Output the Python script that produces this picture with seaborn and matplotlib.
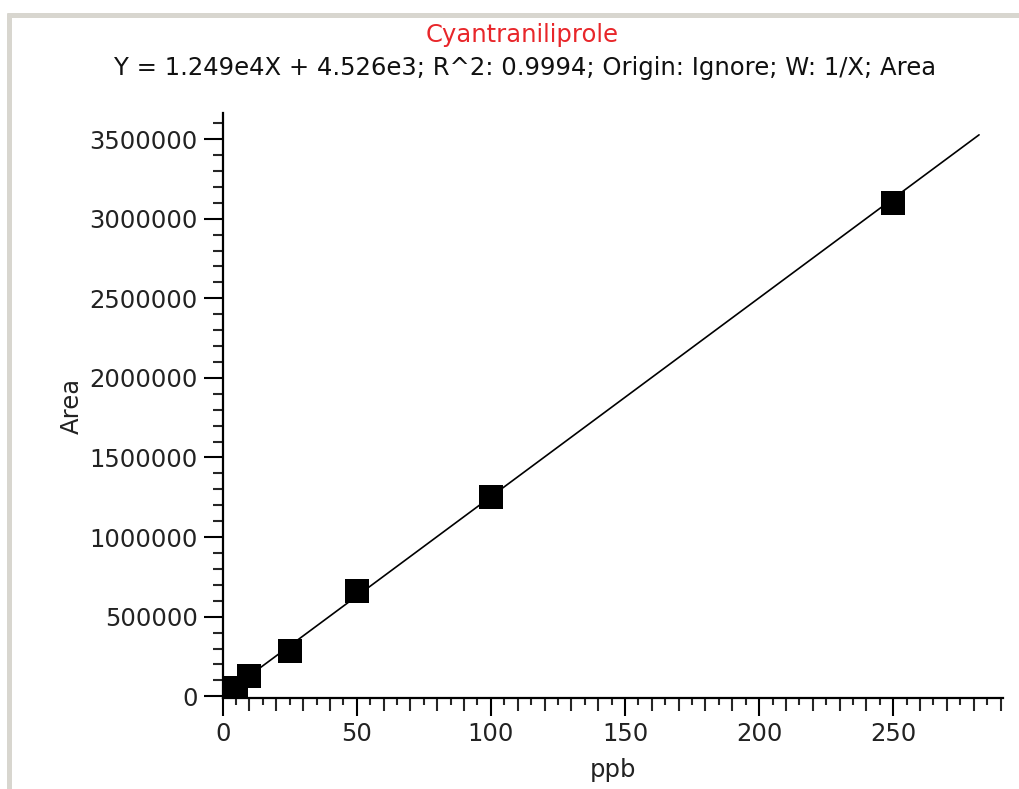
import numpy as np
import pandas as pd
import matplotlib
matplotlib.use("Agg")
import matplotlib.pyplot as plt
from matplotlib.lines import Line2D
from matplotlib.ticker import MultipleLocator, FixedLocator, NullFormatter
import seaborn as sns

# Data
conc_ppb = [5, 10, 25, 50, 100, 250]
area = [52000, 125000, 287000, 660000, 1250000, 3100000]
slope = 1.249e4
intercept = 4.526e3
fit_x = [5, 282]
title_main = "Cyantraniliprole"
title_sub = "Y = 1.249e4X + 4.526e3; R^2: 0.9994; Origin: Ignore; W: 1/X; Area"

sns.set_theme(style="ticks")
plt.rcParams['font.family'] = ['DejaVu Sans']

FS = 17.5

fig = plt.figure(figsize=(10.2, 7.89), dpi=100)
ax = fig.add_axes([0.2183, 0.1153, 0.983 - 0.2183, 0.8568 - 0.1153])

df = pd.DataFrame({"ppb": conc_ppb, "Area": area})
fx = np.array(fit_x, dtype=float)
fit_df = pd.DataFrame({"ppb": fx, "Area": slope * fx + intercept})

sns.lineplot(data=fit_df, x="ppb", y="Area", ax=ax, color="black", linewidth=1.2)
sns.scatterplot(data=df, x="ppb", y="Area", ax=ax, marker="s", s=290,
                color="black", edgecolor="black", linewidth=0, zorder=5)

ax.set_xlim(0, 290.8)
ax.set_ylim(-11000, 3664000)

for s in ["top", "right"]:
    ax.spines[s].set_visible(False)
for s in ["left", "bottom"]:
    ax.spines[s].set_linewidth(1.6)
    ax.spines[s].set_color("black")

ax.xaxis.set_major_locator(MultipleLocator(50))
minor_x = [v for v in range(10, 291, 10) if v % 50 != 0]
ax.xaxis.set_minor_locator(FixedLocator(minor_x))
ax.yaxis.set_major_locator(MultipleLocator(500000))
ax.yaxis.set_minor_locator(MultipleLocator(100000))
ax.yaxis.set_major_formatter(matplotlib.ticker.FuncFormatter(lambda v, p: f"{int(round(v))}"))

ax.tick_params(axis="x", which="major", length=13, width=1.5, labelsize=FS, pad=4, colors="black")
ax.tick_params(axis="x", which="minor", length=9, width=1.5)
ax.tick_params(axis="y", which="major", length=14, width=1.5, labelsize=FS, pad=4, colors="black")
ax.tick_params(axis="y", which="minor", length=7, width=1.5)
for lab in ax.get_xticklabels() + ax.get_yticklabels():
    lab.set_color("#222222")

# short ticks at odd multiples of 5
sec = ax.secondary_xaxis("bottom")
sec.xaxis.set_major_locator(FixedLocator([v for v in range(5, 291, 10)]))
sec.xaxis.set_major_formatter(NullFormatter())
sec.tick_params(axis="x", which="major", length=5, width=1.5)
sec.spines["bottom"].set_visible(False)

ax.set_xlabel("ppb", fontsize=FS, color="#222222")
ax.set_ylabel("Area", fontsize=FS, color="#222222", labelpad=4)
ax.xaxis.set_label_coords(0.5, -0.103)

fig.text(0.512, 1 - 35 / 789, title_main, color="#e8262a", fontsize=FS,
         ha="center", va="center")
fig.text(0.515, 1 - 68 / 789, title_sub, color="#111111", fontsize=FS,
         ha="center", va="center")

# frame lines (top and left)
W, H = 1020, 789
fig.add_artist(Line2D([9.5 / W, 9.5 / W], [0, 1 - 13 / H], transform=fig.transFigure,
                      color="#d8d6cf", linewidth=3.6, solid_capstyle="butt"))
fig.add_artist(Line2D([7.5 / W, 1], [1 - 15 / H, 1 - 15 / H], transform=fig.transFigure,
                      color="#d8d6cf", linewidth=3.6, solid_capstyle="butt"))

fig.savefig("out.png", dpi=100, facecolor="white")
